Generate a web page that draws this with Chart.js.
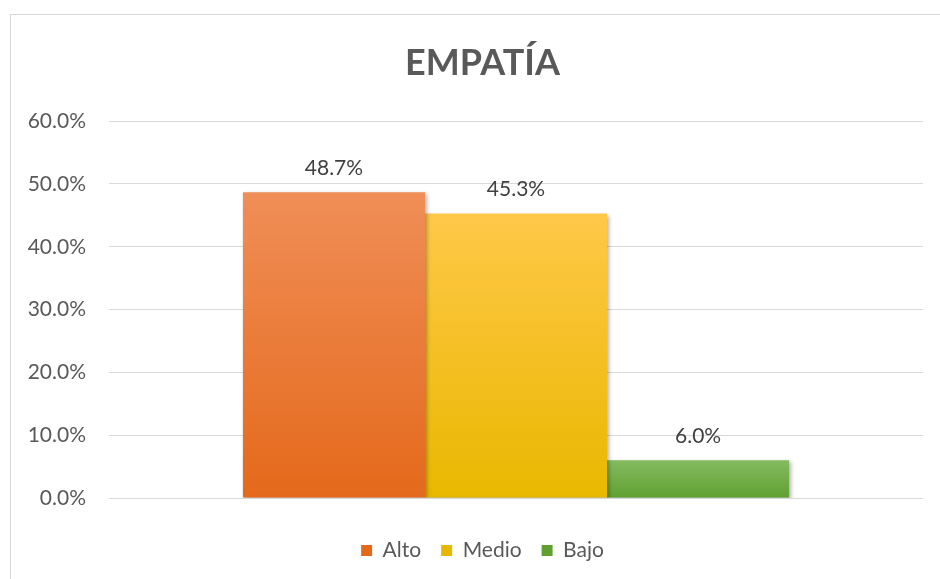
<!DOCTYPE html>
<html>
<head>
<meta charset="utf-8">
<script src="https://cdn.jsdelivr.net/npm/chart.js@4/dist/chart.umd.min.js"></script>
<style>
html,body{margin:0;padding:0;background:#fff;}
#wrap{width:940px;height:579px;position:relative;}
</style>
</head>
<body>
<div id="wrap"><canvas id="c" width="940" height="579"></canvas></div>
<script>
const categories = [''];
const seriesNames = ['Alto', 'Medio', 'Bajo'];
const altoValues = [48.7];
const medioValues = [45.3];
const bajoValues = [6.0];
const yTicks = [0, 10, 20, 30, 40, 50, 60];

const palette = {
  Alto: ['#F08E57', '#E4691B', '#EE7E36'],
  Medio: ['#FFC848', '#E8B800', '#FFC21F'],
  Bajo: ['#84BB61', '#60A030', '#72AE48']
};

function gradFill(name) {
  return function(ctx) {
    const c = palette[name];
    if (ctx.type !== 'data') return c[2];
    const chart = ctx.chart;
    const ys = chart.scales.y;
    if (!chart.chartArea || !ys) return c[2];
    const top = ys.getPixelForValue(ctx.raw);
    const bot = ys.getPixelForValue(0);
    if (!isFinite(top) || !isFinite(bot) || top === bot) return c[2];
    const g = chart.ctx.createLinearGradient(0, top, 0, bot);
    g.addColorStop(0, c[0]);
    g.addColorStop(1, c[1]);
    return g;
  };
}

const frame = {
  id: 'frame',
  beforeDraw(chart) {
    const ctx = chart.ctx;
    ctx.save();
    ctx.fillStyle = '#fff';
    ctx.fillRect(0, 0, chart.width, chart.height);
    ctx.strokeStyle = '#D9D9D9';
    ctx.lineWidth = 1;
    ctx.strokeRect(10.5, 14.5, chart.width + 20, chart.height + 20);
    ctx.restore();
  }
};

const recenter = {
  id: 'recenter',
  afterLayout(chart) {
    const shift = 21;
    [chart.titleBlock, chart.legend].forEach(b => {
      if (b) { b.left += shift; b.right += shift; }
    });
  }
};

const shadow = {
  id: 'shadow',
  beforeDatasetsDraw(chart) {
    const ctx = chart.ctx;
    ctx.save();
    ctx.shadowColor = 'rgba(0,0,0,0.3)';
    ctx.shadowBlur = 4;
    ctx.shadowOffsetX = 2;
    ctx.shadowOffsetY = 2;
  },
  afterDatasetsDraw(chart) {
    chart.ctx.restore();
  }
};

const dataLabels = {
  id: 'dataLabels',
  afterDatasetsDraw(chart) {
    const ctx = chart.ctx;
    ctx.save();
    ctx.font = '21px Lato';
    ctx.fillStyle = '#404040';
    ctx.textAlign = 'center';
    ctx.textBaseline = 'middle';
    chart.data.datasets.forEach((ds, i) => {
      const meta = chart.getDatasetMeta(i);
      meta.data.forEach((bar, j) => {
        const v = ds.data[j];
        ctx.fillText(v.toFixed(1) + '%', bar.x, bar.y - 24);
      });
    });
    ctx.restore();
  }
};

new Chart(document.getElementById('c'), {
  type: 'bar',
  data: {
    labels: categories,
    datasets: [
      { label: seriesNames[0], data: altoValues, backgroundColor: gradFill('Alto') },
      { label: seriesNames[1], data: medioValues, backgroundColor: gradFill('Medio') },
      { label: seriesNames[2], data: bajoValues, backgroundColor: gradFill('Bajo') }
    ]
  },
  options: {
    responsive: false,
    animation: false,
    devicePixelRatio: 1,
    layout: { padding: { left: 0, right: 17, top: 0, bottom: 8 } },
    datasets: { bar: { categoryPercentage: 0.671, barPercentage: 1.0 } },
    scales: {
      x: {
        afterFit(scale) { scale.height = 22; },
        grid: { display: false, drawTicks: false },
        border: { display: false },
        ticks: { display: false }
      },
      y: {
        min: 0,
        max: 60,
        afterBuildTicks(scale) { scale.ticks = yTicks.map(v => ({ value: v })); },
        afterFit(scale) { scale.width = 109; },
        grid: { color: '#D9D9D9', lineWidth: 1, drawTicks: false },
        border: { display: false },
        ticks: {
          padding: 23,
          color: '#595959',
          font: { family: 'Lato', size: 21 },
          callback: v => v.toFixed(1) + '%'
        }
      }
    },
    plugins: {
      title: {
        display: true,
        text: 'EMPATÍA',
        color: '#595959',
        font: { family: 'Lato', size: 36, weight: 'bold', lineHeight: 1.2 },
        padding: { top: 42, bottom: 36 }
      },
      legend: {
        position: 'bottom',
        labels: {
          boxWidth: 11,
          boxHeight: 11,
          padding: 20,
          color: '#595959',
          font: { family: 'Lato', size: 21 }
        }
      },
      tooltip: { enabled: false }
    }
  },
  plugins: [frame, recenter, shadow, dataLabels]
});
</script>
</body>
</html>
